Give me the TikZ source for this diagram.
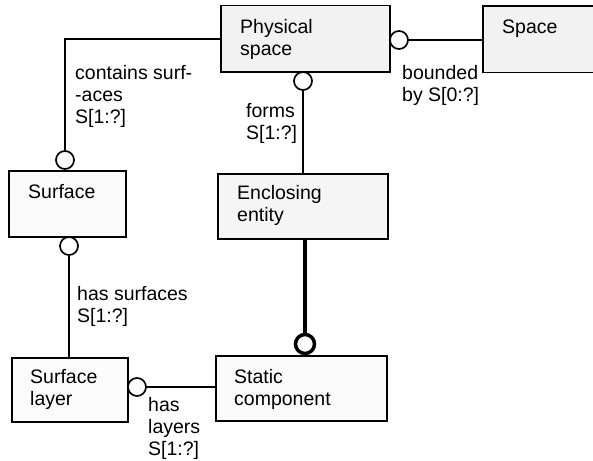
\documentclass[tikz,border=0pt]{standalone}
\usepackage{fontspec}
\setmainfont{Liberation Sans}
\begin{document}
\begin{tikzpicture}[x=1pt,y=-1pt]
\tikzset{
 box/.style={draw, line width=1.5pt, fill=black!4, inner sep=0pt, anchor=north west},
 lbl/.style={font=\fontsize{19.5}{22}\selectfont, align=left, inner sep=0pt, anchor=base west},
 ring/.style={circle, draw, line width=1.7pt, fill=white, minimum size=18pt, inner sep=0pt},
 thickring/.style={circle, draw, line width=3.5pt, fill=white, minimum size=19pt, inner sep=0pt},
 conn/.style={line width=1.6pt},
 thickconn/.style={line width=4.5pt},
}
\useasboundingbox[fill=white] (0,0) rectangle (593,460);
% boxes
\node[box, fill=black!5, minimum width=169pt, minimum height=66pt] (ps) at (220,5) {};
\node[box, draw=none, fill=black!5, minimum width=112pt, minimum height=65pt] (sp) at (483,6) {};
\draw[line width=1.5pt] (sp.north east) -- (sp.north west) -- (sp.south west) -- (sp.south east);
\node[box, fill=black!2, minimum width=117pt, minimum height=66pt] (su) at (8,170) {};
\node[box, fill=black!4, minimum width=170pt, minimum height=65pt] (en) at (217,173) {};
\node[box, fill=black!1, minimum width=116pt, minimum height=64pt] (sl) at (11,357) {};
\node[box, fill=black!2, minimum width=171pt, minimum height=65pt] (sc) at (215,355) {};
% box texts (anchor = baseline of last line)
\node[lbl] (pst) at (240,56) {Physical\\space};
\node[lbl] (spt) at (502,34) {Space};
\node[lbl] (sut) at (28,198) {Surface};
\node[lbl] (ent) at (237,221) {Enclosing\\entity};
\node[lbl] (slt) at (30,405) {Surface\\layer};
\node[lbl] (sct) at (234,405) {Static\\component};
% rings
\node[ring] (r1) at (399,40) {};
\node[ring] (r2) at (303,81) {};
\node[ring] (r3) at (65,160) {};
\node[ring] (r4) at (69,246) {};
\node[ring] (r5) at (137,387) {};
% connectors
\draw[conn] (r1.east) -- (sp.west |- r1.east);
\draw[conn] (r2.south) -- (r2.south |- en.north);
\coordinate (k1) at (65,39);
\draw[conn] (ps.west |- k1) -- (k1) -- (r3.north);
\draw[conn] (r4.south) -- (r4.south |- sl.north);
\draw[conn] (r5.east) -- (sc.west |- r5.east);
\node[thickring] (r6) at (305,344) {};
\draw[thickconn] (r6.north |- en.south) -- (r6.north);
% labels
\node[lbl] (lb1) at (402,101) {bounded\\by S[0:?]};
\node[lbl] (lb2) at (246,139) {forms\\S[1:?]};
\node[lbl] (lb3) at (75,123) {contains surf-\\-aces\\S[1:?]};
\node[lbl] (lb4) at (77,322) {has surfaces\\S[1:?]};
\node[lbl] (lb5) at (148,455) {has\\layers\\S[1:?]};
\end{tikzpicture}
\end{document}
